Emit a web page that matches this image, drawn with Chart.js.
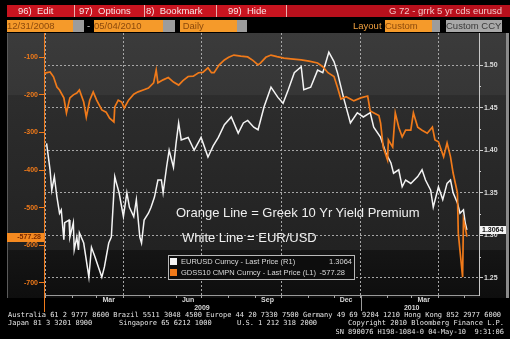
<!DOCTYPE html>
<html>
<head>
<meta charset="utf-8">
<script src="https://cdn.jsdelivr.net/npm/chart.js@4.4.0/dist/chart.umd.min.js"></script>
<style>
html, body { margin: 0; padding: 0; background: #000; }
#wrap { position: relative; width: 510px; height: 339px; overflow: hidden; background: #000; font-family: "Liberation Sans", Arial, sans-serif; }
#wrap canvas { position: absolute; left: 0; top: 0; }
.abs { position: absolute; white-space: pre; }
.bar1 { left: 7px; top: 5px; width: 503px; height: 12px; background: #b8101c; }
.btn { top: 5px; height: 12px; background: #c8141f; border-right: 1px solid #e8b0b0; font-size: 9.5px; line-height: 12px; color: #f6e6e6; }
.fld { top: 20px; height: 12px; background: #f59a2a; color: #8c4a0c; font-size: 9.5px; line-height: 12px; }
.gry { top: 20px; height: 12px; background: #9c9c9c; }
.foot { font-family: "DejaVu Sans Mono", monospace; font-size: 7px; color: #e4e4e4; line-height: 8px; }
.note { color: #efefef; font-size: 13px; line-height: 14px; }
#legend { left: 168px; top: 255px; width: 185px; height: 23px; border: 1px solid #b8b8b8; background: #0d0d0d; font-size: 7.5px; color: #d8d8d8; }
.sw { position: absolute; width: 7px; height: 7px; }
</style>
</head>
<body>
<div id="wrap">
  <canvas id="grafico" width="510" height="339"></canvas>

  <div class="abs bar1"></div>
  <div class="abs btn" style="left:7px;width:67px;"><span style="position:absolute;left:11px;">96)  Edit</span></div>
  <div class="abs btn" style="left:75px;width:69px;"><span style="position:absolute;left:4px;">97)  Options</span></div>
  <div class="abs btn" style="left:145px;width:71px;"><span style="position:absolute;left:1px;">8)  Bookmark</span></div>
  <div class="abs btn" style="left:217px;width:69px;"><span style="position:absolute;left:11px;">99)  Hide</span></div>
  <div class="abs" style="right:8px;top:5px;font-size:9.5px;line-height:12px;color:#f2c8c8;">G 72 - grrk 5 yr cds eurusd</div>

  <div class="abs fld" style="left:7px;width:66px;">12/31/2008</div>
  <div class="abs gry" style="left:73px;width:11px;"></div>
  <div class="abs" style="left:87px;top:20px;font-size:9.5px;line-height:12px;color:#ddd;">-</div>
  <div class="abs fld" style="left:94px;width:69px;">05/04/2010</div>
  <div class="abs gry" style="left:163px;width:12px;"></div>
  <div class="abs fld" style="left:180px;width:57px;"> Daily</div>
  <div class="abs gry" style="left:237px;width:10px;"></div>
  <div class="abs" style="left:353px;top:20px;font-size:9.5px;line-height:12px;color:#f0a040;">Layout</div>
  <div class="abs fld" style="left:385px;width:47px;">Custom</div>
  <div class="abs gry" style="left:432px;width:8px;"></div>
  <div class="abs gry" style="left:446px;width:56px;background:#a8a8a8;color:#3a3a3a;font-size:9.5px;line-height:12px;">Custom CCY</div>

  <div class="abs note" style="left:176px;top:206px;">Orange Line = Greek 10 Yr Yield Premium</div>
  <div class="abs note" style="left:182px;top:231px;">White Line = EUR/USD</div>

  <div id="legend" class="abs">
    <div class="sw" style="left:1px;top:2px;background:#f4f4f4;"></div>
    <div class="abs" style="left:12px;top:1px;line-height:10px;">EURUSD Curncy - Last Price (R1)</div>
    <div class="abs" style="right:2px;top:1px;line-height:10px;">1.3064</div>
    <div class="sw" style="left:1px;top:13px;background:#f07a1a;"></div>
    <div class="abs" style="left:12px;top:12px;line-height:10px;">GDSS10 CMPN Curncy - Last Price (L1)</div>
    <div class="abs" style="right:9px;top:12px;line-height:10px;">-577.28</div>
  </div>

  <div class="abs foot" style="left:8px;top:311px;">Australia 61 2 9777 8600 Brazil 5511 3048 4500 Europe 44 20 7330 7500 Germany 49 69 9204 1210 Hong Kong 852 2977 6000</div>
  <div class="abs foot" style="left:8px;top:319px;">Japan 81 3 3201 8900</div>
  <div class="abs foot" style="left:119px;top:319px;">Singapore 65 6212 1000</div>
  <div class="abs foot" style="left:237px;top:319px;">U.S. 1 212 318 2000</div>
  <div class="abs foot" style="right:6px;top:319px;">Copyright 2010 Bloomberg Finance L.P.</div>
  <div class="abs foot" style="right:6px;top:328px;">SN 890076 H198-1084-0 04-May-10  9:31:06</div>
</div>

<script>
// dias contados a partir de 01/01/2009
const diasGreek = [-1, 5, 9, 13, 16, 21, 24, 28, 32, 36, 39, 44, 47, 51, 55, 59, 65, 70, 74, 79, 80, 84, 88, 91, 96,
    102, 107, 113, 119, 125, 128, 130, 136, 142, 148, 154, 159, 165, 171, 177, 182, 188, 192, 195, 201, 207, 212,
    218, 226, 234, 240, 246, 249, 255, 261, 268, 276, 284, 296, 305, 315, 321, 327, 334, 338, 342, 348, 353, 357,
    365, 373, 376, 382, 386, 388, 391, 396, 397, 402, 405, 409, 413, 417, 423, 426, 431, 436, 442, 448, 451, 455,
    461, 465, 469, 472, 477, 478, 480, 483, 484, 486, 488];
const valoresGreek = [-142, -139, -152, -179, -187, -208, -248, -208, -200, -195, -187, -219, -259, -214, -192, -214,
    -240, -246, -262, -272, -232, -214, -219, -235, -214, -198, -192, -187, -182, -168, -134, -168, -160, -154, -166,
    -174, -162, -151, -150, -141, -140, -128, -141, -141, -120, -107, -100, -94, -97, -99, -108, -120, -115, -100,
    -94, -98, -102, -104, -107, -110, -115, -125, -141, -151, -180, -211, -205, -211, -216, -208, -203, -243, -250,
    -255, -275, -339, -373, -320, -339, -248, -286, -312, -294, -294, -248, -286, -294, -302, -286, -320, -325,
    -365, -328, -365, -408, -461, -568, -615, -685, -533, -552, -577.28];

const diasEur = [1, 5, 7, 10, 13, 16, 18, 21, 22, 27, 28, 32, 33, 36, 38, 39, 44, 50, 53, 57, 61, 65, 68, 73, 76, 80,
    82, 85, 90, 94, 97, 102, 105, 109, 111, 114, 119, 122, 126, 130, 134, 136, 140, 143, 148, 151, 154, 157, 165,
    172, 180, 188, 194, 200, 207, 215, 223, 229, 234, 241, 246, 253, 261, 269, 275, 281, 288, 296, 299, 307, 315,
    321, 328, 334, 338, 345, 353, 361, 368, 376, 380, 388, 394, 400, 403, 409, 413, 417, 423, 431, 436, 440, 446,
    449, 455, 460, 465, 469, 472, 477, 480, 484, 486, 488];
const valoresEur = [1.408, 1.377, 1.353, 1.369, 1.345, 1.326, 1.330, 1.295, 1.315, 1.318, 1.298, 1.315, 1.283, 1.298,
    1.283, 1.303, 1.291, 1.251, 1.286, 1.275, 1.263, 1.251, 1.263, 1.291, 1.298, 1.369, 1.361, 1.350, 1.322, 1.350,
    1.333, 1.322, 1.342, 1.298, 1.291, 1.318, 1.326, 1.333, 1.345, 1.365, 1.365, 1.350, 1.380, 1.400, 1.380, 1.408,
    1.432, 1.412, 1.415, 1.400, 1.415, 1.392, 1.405, 1.415, 1.430, 1.439, 1.420, 1.432, 1.435, 1.427, 1.424, 1.451,
    1.474, 1.462, 1.455, 1.471, 1.491, 1.498, 1.471, 1.474, 1.494, 1.491, 1.515, 1.504, 1.491, 1.462, 1.432, 1.444,
    1.439, 1.444, 1.427, 1.415, 1.397, 1.385, 1.373, 1.377, 1.357, 1.365, 1.361, 1.369, 1.377, 1.365, 1.353, 1.333,
    1.357, 1.342, 1.361, 1.365, 1.350, 1.338, 1.326, 1.330, 1.315, 1.3064];

const ticksEsquerda = [-100, -200, -300, -400, -500, -600, -700];
const ticksDireita = [1.25, 1.30, 1.35, 1.40, 1.45, 1.50];
const inicioMeses = [0, 31, 59, 90, 120, 151, 181, 212, 243, 273, 304, 334, 365, 396, 424, 455, 485];
const inicioTrimestres = [0, 90, 181, 273, 365, 455];
const nomesMeses = ['Mar', 'Jun', 'Sep', 'Dec', 'Mar'];
const diasMeses = [73, 165, 257, 348, 438];
const nomesAnos = ['2009', '2010'];
const diasAnos = [181, 424];

const LARANJA = '#f07a1a';
const GRADE = '#a6a6a6';
const fonteEixo = { family: 'Liberation Sans', size: 7, weight: 'bold' };

const fundo = {
    id: 'fundo',
    beforeDraw(chart) {
        const ctx = chart.ctx;
        const g = ctx.createLinearGradient(0, 33, 0, 298);
        g.addColorStop(0, '#3b3b3b');
        g.addColorStop(0.233, '#363636');
        g.addColorStop(0.236, '#2d2d2d');
        g.addColorStop(0.817, '#222222');
        g.addColorStop(0.821, '#151515');
        g.addColorStop(1, '#0e0e0e');
        ctx.save();
        ctx.fillStyle = g;
        ctx.fillRect(7, 33, 499, 265);
        ctx.fillStyle = '#8a8a8a';
        ctx.fillRect(506, 33, 3, 265);
        ctx.fillStyle = '#5a5a5a';
        ctx.fillRect(7, 33, 1, 265);
        ctx.restore();
    },
    afterDraw(chart) {
        const ctx = chart.ctx;
        const x = chart.scales.x, yL = chart.scales.yL, yR = chart.scales.yR;
        const area = chart.chartArea;
        ctx.save();
        // eixo laranja prolongado e separador de ano
        ctx.strokeStyle = LARANJA;
        ctx.lineWidth = 1;
        ctx.beginPath();
        ctx.moveTo(area.left + 0.5, area.bottom);
        ctx.lineTo(area.left + 0.5, 312);
        ctx.stroke();
        ctx.strokeStyle = '#9a9a9a';
        const xAno = Math.round(x.getPixelForValue(365)) + 0.5;
        ctx.beginPath();
        ctx.moveTo(xAno, area.bottom);
        ctx.lineTo(xAno, 311);
        ctx.stroke();
        // ticks menores da direita
        ctx.strokeStyle = '#cfcfcf';
        for (let i = 0; i < ticksDireita.length - 1; i++) {
            const y = Math.round(yR.getPixelForValue((ticksDireita[i] + ticksDireita[i + 1]) / 2)) + 0.5;
            ctx.beginPath();
            ctx.moveTo(area.right, y);
            ctx.lineTo(area.right + 2, y);
            ctx.stroke();
        }
        // rótulos de meses e anos
        ctx.fillStyle = '#d8d8d8';
        ctx.font = 'bold 7px "Liberation Sans"';
        ctx.textAlign = 'center';
        ctx.textBaseline = 'middle';
        nomesMeses.forEach((m, i) => ctx.fillText(m, x.getPixelForValue(diasMeses[i]), 300.5));
        nomesAnos.forEach((a, i) => ctx.fillText(a, x.getPixelForValue(diasAnos[i]), 308.5));
        // caixas do último valor
        const ultL = valoresGreek[valoresGreek.length - 1];
        const ultR = valoresEur[valoresEur.length - 1];
        const yl = yL.getPixelForValue(ultL);
        ctx.fillStyle = '#f58a20';
        ctx.fillRect(7, Math.round(yl) - 4, area.left - 7, 9);
        ctx.fillStyle = '#7a2a00';
        ctx.textAlign = 'right';
        ctx.fillText(ultL.toFixed(2), area.left - 3, Math.round(yl) + 0.5);
        const yr = yR.getPixelForValue(ultR);
        ctx.fillStyle = '#f4f4f4';
        ctx.fillRect(area.right + 1, Math.round(yr) - 4, 26, 8);
        ctx.fillStyle = '#111';
        ctx.textAlign = 'left';
        ctx.fillText(ultR.toFixed(4), area.right + 3, Math.round(yr) + 0.5);
        ctx.restore();
    }
};

function gerarGrafico() {
    new Chart(document.getElementById('grafico'), {
        type: 'line',
        data: {
            datasets: [{
                label: 'GDSS10 CMPN Curncy - Last Price (L1)',
                data: diasGreek.map((d, i) => ({ x: d, y: valoresGreek[i] })),
                yAxisID: 'yL',
                borderColor: LARANJA,
                borderWidth: 1.7,
                pointRadius: 0,
                tension: 0
            }, {
                label: 'EURUSD Curncy - Last Price (R1)',
                data: diasEur.map((d, i) => ({ x: d, y: valoresEur[i] })),
                yAxisID: 'yR',
                borderColor: '#f4f4f4',
                borderWidth: 1.5,
                pointRadius: 0,
                tension: 0
            }]
        },
        options: {
            responsive: false,
            animation: false,
            layout: { padding: { left: 7, right: 0, top: 33, bottom: 0 } },
            plugins: { legend: { display: false }, tooltip: { enabled: false } },
            scales: {
                x: {
                    type: 'linear',
                    min: -2,
                    max: 502,
                    afterBuildTicks: s => { s.ticks = inicioMeses.map(v => ({ value: v })); },
                    afterFit: s => { s.height = 44; },
                    ticks: { display: false },
                    grid: {
                        color: c => inicioTrimestres.includes(c.tick && c.tick.value) ? GRADE : 'rgba(0,0,0,0)',
                        tickColor: '#a8a8a8',
                        tickLength: 3,
                        tickBorderDash: [],
                        lineWidth: 1
                    },
                    border: { display: true, color: '#9a9a9a', dash: [2, 2] }
                },
                yL: {
                    position: 'left',
                    min: -732.7,
                    max: -35.3,
                    afterBuildTicks: s => { s.ticks = ticksEsquerda.map(v => ({ value: v })); },
                    afterFit: s => { s.width = 37; },
                    ticks: { color: LARANJA, font: fonteEixo, padding: 1, callback: v => v },
                    grid: { drawOnChartArea: false, tickColor: LARANJA, tickLength: 5 },
                    border: { color: LARANJA, width: 1 }
                },
                yR: {
                    position: 'right',
                    min: 1.2300,
                    max: 1.5376,
                    afterBuildTicks: s => { s.ticks = ticksDireita.map(v => ({ value: v })); },
                    afterFit: s => { s.width = 31; },
                    ticks: { color: '#dcdcdc', font: fonteEixo, padding: 1, callback: v => v.toFixed(2) },
                    grid: { color: GRADE, tickColor: '#d0d0d0', tickLength: 4, tickBorderDash: [] },
                    border: { color: '#c8c8c8', width: 1, dash: [2, 2] }
                }
            }
        },
        plugins: [fundo]
    });
}

document.addEventListener('DOMContentLoaded', gerarGrafico);
</script>
</body>
</html>
